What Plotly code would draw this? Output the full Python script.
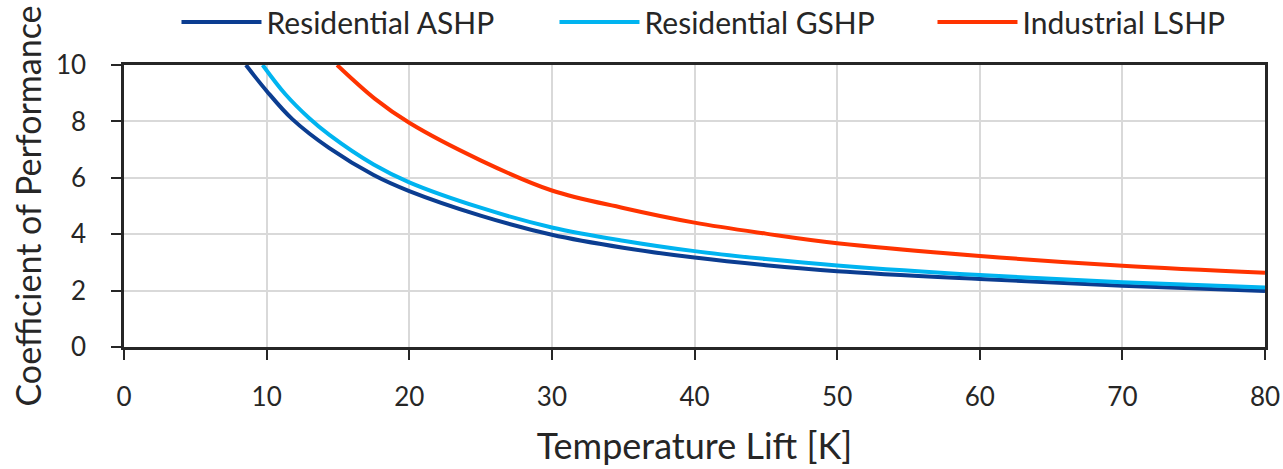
import plotly.graph_objects as go

# Temperature lift [K] sample positions and COP values
ashp_x = [8.55, 10, 11.8, 14.4, 17.5, 20, 25, 30, 35, 40, 45, 50, 60, 70, 80]
ashp_y = [10.0, 9.08, 8.08, 7.05, 6.1, 5.53, 4.66, 3.98, 3.52, 3.17, 2.90, 2.69, 2.41, 2.17, 1.99]

gshp_x = [9.72, 11.3, 12.97, 14.4, 17.5, 20, 25, 30, 35, 40, 45, 50, 60, 70, 80]
gshp_y = [10.0, 8.97, 8.12, 7.52, 6.47, 5.84, 4.94, 4.24, 3.77, 3.40, 3.12, 2.89, 2.55, 2.30, 2.11]

lshp_x = [14.94, 17.6, 20, 25, 30, 35, 40, 45, 50, 60, 70, 80]
lshp_y = [10.0, 8.8, 7.95, 6.62, 5.55, 4.93, 4.41, 4.02, 3.68, 3.23, 2.88, 2.63]

series = [
    ("Residential ASHP", ashp_x, ashp_y, "#0b3d91"),
    ("Residential GSHP", gshp_x, gshp_y, "#00b4f0"),
    ("Industrial LSHP", lshp_x, lshp_y, "#ff3300"),
]

x_ticks = [0, 10, 20, 30, 40, 50, 60, 70, 80]
y_ticks = [0, 2, 4, 6, 8, 10]

FONT = "Lato, 'Liberation Sans Narrow', sans-serif"
TXT = "#262626"

fig = go.Figure()
for name, xs, ys, col in series:
    fig.add_trace(go.Scatter(
        x=xs, y=ys, name=name, mode="lines",
        line=dict(color=col, width=4, shape="spline", smoothing=1.0),
    ))

fig.update_layout(
    width=1283, height=469,
    margin=dict(l=124, r=18, t=65, b=122, autoexpand=False),
    paper_bgcolor="white", plot_bgcolor="white",
    font=dict(family=FONT, size=26, color=TXT),
    legend=dict(
        orientation="h", xref="paper", x=0.046, xanchor="left",
        yref="container", y=0.953, yanchor="middle",
        font=dict(family=FONT, size=30, color=TXT),
        itemwidth=80, entrywidth=283, entrywidthmode="pixels",
        tracegroupgap=0, bgcolor="rgba(0,0,0,0)",
    ),
    showlegend=True,
)
fig.update_xaxes(
    range=[0, 80], tickvals=x_ticks, ticktext=[str(v) for v in x_ticks],
    showgrid=True, gridcolor="#d9d9d9", gridwidth=1.5,
    showline=True, linecolor=TXT, linewidth=2.5, mirror=True,
    ticks="outside", ticklen=10, tickwidth=2, tickcolor=TXT,
    ticklabelstandoff=15,
    zeroline=False,
    title=dict(text="Temperature Lift [K]", standoff=23, font=dict(size=36)),
    tickfont=dict(size=26),
)
fig.update_yaxes(
    range=[0, 10], tickvals=y_ticks, ticktext=[str(v) for v in y_ticks],
    showgrid=True, gridcolor="#d9d9d9", gridwidth=1.5,
    showline=True, linecolor=TXT, linewidth=2.5, mirror=True,
    ticks="outside", ticklen=10, tickwidth=2, tickcolor=TXT,
    ticklabelstandoff=20,
    zeroline=False,
    title=dict(text="Coefficient of Performance", standoff=4, font=dict(size=34)),
    tickfont=dict(size=26),
)

fig.write_html("out.html")
